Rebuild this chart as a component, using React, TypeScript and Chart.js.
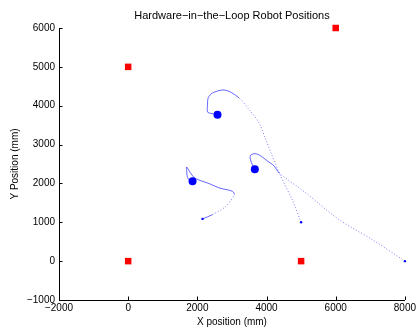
import React, { useEffect, useRef } from "react";
import { Chart, registerables } from "chart.js";

Chart.register(...registerables);

const TITLE = "Hardware\u2212in\u2212the\u2212Loop Robot Positions";
const X_LABEL = "X position (mm)";
const Y_LABEL = "Y Position (mm)";
const X_MIN = -2000, X_MAX = 8000, X_STEP = 2000;
const Y_MIN = -1000, Y_MAX = 6000, Y_STEP = 1000;

// landmarks (red squares)
const landmarkX = [0, 6000, 0, 5000];
const landmarkY = [5000, 6000, 0, 0];

// current robot positions (blue circles)
const robotX = [2583, 1861, 3662];
const robotY = [3769, 2054, 2362];

// trajectories (start -> current)
const path1X = [5000, 4739, 4364, 3980, 3786, 3498, 3209, 2919, 2727, 2439, 2315, 2294, 2294, 2372, 2583];
const path1Y = [1000, 1584, 2278, 3126, 3555, 3897, 4198, 4368, 4405, 4327, 4206, 4026, 3838, 3807, 3769];
const path2X = [8000, 7056, 6095, 5134, 4364, 4219, 4026, 3786, 3642, 3527, 3564, 3662];
const path2Y = [0, 555, 1069, 1756, 2270, 2450, 2578, 2733, 2766, 2707, 2535, 2362];
const path3X = [2150, 2439, 2825, 3065, 3016, 2632, 2343, 2055, 1911, 1795, 1688, 1694, 1708, 1766, 1861];
const path3Y = [1087, 1198, 1411, 1712, 1797, 1884, 1995, 2085, 2149, 2278, 2424, 2303, 2175, 2085, 2054];

const FONT = "'Liberation Sans', Arial, Helvetica, sans-serif";

const zip = (xs: number[], ys: number[]) => xs.map((x, i) => ({ x, y: ys[i] }));
const minus = (v: number | string) => String(v).replace("-", "\u2212");

const extras = {
  id: "extras",
  afterDraw(chart: any) {
    const { ctx, chartArea, scales } = chart;
    const x = scales.x, y = scales.y;
    ctx.save();
    ctx.strokeStyle = "#000";
    ctx.lineWidth = 1;
    ctx.beginPath();
    x.ticks.forEach((t: any) => {
      const px = Math.round(x.getPixelForValue(t.value)) + 0.5;
      ctx.moveTo(px, chartArea.bottom);
      ctx.lineTo(px, chartArea.bottom - 3.5);
    });
    y.ticks.forEach((t: any) => {
      const py = Math.round(y.getPixelForValue(t.value)) + 0.5;
      ctx.moveTo(chartArea.left, py);
      ctx.lineTo(chartArea.left + 3.5, py);
    });
    ctx.stroke();
    ctx.fillStyle = "#000";
    ctx.font = `11px ${FONT}`;
    ctx.textAlign = "center";
    ctx.textBaseline = "middle";
    ctx.fillText(TITLE, (chartArea.left + chartArea.right) / 2, 16);
    ctx.restore();
  },
};

export default function App() {
  const ref = useRef<HTMLCanvasElement>(null);
  useEffect(() => {
    if (!ref.current) return;
    const segLen = (c: any) => Math.hypot(c.p1.x - c.p0.x, c.p1.y - c.p0.y);
    const lineStyle = {
      type: "line" as const,
      showLine: true,
      borderColor: "rgba(0,0,255,0.45)",
      borderWidth: 1,
      tension: 0.3,
      pointBackgroundColor: "#0000ff",
      pointBorderWidth: 0,
      pointRadius: (c: any) => (c.dataIndex === 0 ? 1.2 : 0),
      fill: false,
      clip: false,
      segment: {
        borderDash: (c: any) => (segLen(c) > 14 ? [1, 2] : undefined),
        borderColor: (c: any) => (segLen(c) > 14 ? "rgba(0,0,255,0.5)" : "rgba(0,0,255,0.6)"),
      },
    };
    const chart = new Chart(ref.current, {
      type: "scatter",
      data: {
        datasets: [
          { ...lineStyle, data: zip(path1X, path1Y) },
          { ...lineStyle, data: zip(path2X, path2Y) },
          { ...lineStyle, data: zip(path3X, path3Y) },
          {
            data: zip(robotX, robotY),
            pointStyle: "circle",
            pointRadius: 4,
            backgroundColor: "#0000ff",
            borderColor: "#0000ff",
            borderWidth: 0,
            clip: false,
          },
          {
            data: zip(landmarkX, landmarkY),
            pointStyle: "rect",
            pointRadius: 4.6,
            backgroundColor: "#ff0000",
            borderColor: "#ff0000",
            borderWidth: 0,
            clip: false,
          },
        ],
      } as any,
      options: {
        animation: false,
        responsive: true,
        maintainAspectRatio: false,
        layout: { padding: { top: 28, right: 12, left: 0, bottom: 0 } },
        plugins: { legend: { display: false }, tooltip: { enabled: false }, title: { display: false } },
        scales: {
          x: {
            type: "linear",
            min: X_MIN,
            max: X_MAX,
            ticks: { stepSize: X_STEP, color: "#000", font: { family: FONT, size: 10 }, padding: 2, callback: (v: any) => minus(v), maxRotation: 0 },
            grid: { display: true, drawOnChartArea: false, drawTicks: false },
            border: { display: true, color: "#000", width: 1 },
            title: { display: true, text: X_LABEL, color: "#000", font: { family: FONT, size: 10 }, padding: { top: 0, bottom: 5 } },
            afterFit: (s: any) => { s.height = 33; },
          },
          y: {
            type: "linear",
            min: Y_MIN,
            max: Y_MAX,
            ticks: { stepSize: Y_STEP, color: "#000", font: { family: FONT, size: 10 }, padding: 4, callback: (v: any) => minus(v) },
            grid: { display: true, drawOnChartArea: false, drawTicks: false },
            border: { display: true, color: "#000", width: 1 },
            title: { display: true, text: Y_LABEL, color: "#000", font: { family: FONT, size: 10 }, padding: { top: 9, bottom: 0 } },
            afterFit: (s: any) => { s.width = 59; },
          },
        },
      } as any,
      plugins: [extras],
    });
    return () => chart.destroy();
  }, []);
  return (
    <div style={{ position: "fixed", left: 0, top: 0, width: 418, height: 333, background: "#fff" }}>
      <canvas ref={ref} />
    </div>
  );
}
